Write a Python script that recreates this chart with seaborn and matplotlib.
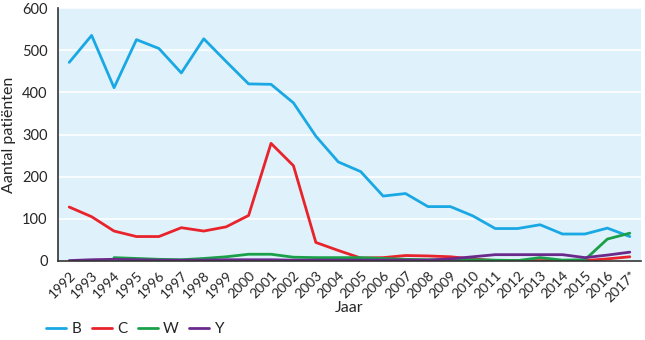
import numpy as np
import pandas as pd
import matplotlib
matplotlib.use("Agg")
import matplotlib.pyplot as plt
import seaborn as sns

years = ["1992","1993","1994","1995","1996","1997","1998","1999","2000","2001","2002","2003","2004",
         "2005","2006","2007","2008","2009","2010","2011","2012","2013","2014","2015","2016","2017*"]
B = [471,535,411,525,504,446,527,473,420,419,375,296,235,212,154,160,129,129,107,77,77,86,64,64,78,58]
C = [128,105,71,58,58,79,71,81,108,279,226,44,25,7,8,13,12,10,5,1,1,1,1,1,5,10]
W = [np.nan,np.nan,8,6,4,3,6,10,16,16,9,8,8,8,6,4,3,3,3,2,1,8,2,3,52,66]
Y = [1,3,4,3,2,2,2,3,3,3,2,2,2,2,2,2,2,5,10,15,15,15,15,8,14,21]

series = {"B": B, "C": C, "W": W, "Y": Y}
colors = {"B": "#1aa8e4", "C": "#e8232b", "W": "#1ba04a", "Y": "#6a2a8c"}

rows = []
for name, vals in series.items():
    for i, v in enumerate(vals):
        rows.append({"idx": i, "value": v, "serie": name})
df = pd.DataFrame(rows)

sns.set_style("white")
plt.rcParams["font.family"] = ["Lato", "DejaVu Sans"]

fig = plt.figure(figsize=(6.45, 3.4), dpi=100)
ax = fig.add_axes([58/645, 1-261/340, (641-58)/645, (261-8)/340])
ax.set_facecolor("#dff2fb")

sns.lineplot(data=df, x="idx", y="value", hue="serie", palette=colors, ax=ax,
             linewidth=2.0, legend=True)

ax.set_xlim(-0.5, len(years)-0.5)
ax.set_ylim(0, 600)
ax.set_yticks(range(0, 601, 100))
ax.yaxis.grid(True, color="white", linewidth=1.2)
ax.set_axisbelow(True)
ax.set_xticks(np.arange(-0.5, len(years)+0.5, 1))
ax.set_xticklabels([])
ax.set_xticks(np.arange(len(years)), minor=True)
ax.set_xticklabels(years, minor=True, rotation=45, ha="right", rotation_mode="anchor", fontsize=10)
ax.tick_params(axis="x", which="major", direction="out", length=4, color="#333333", width=1)
ax.tick_params(axis="x", which="minor", length=0, pad=6)
ax.tick_params(axis="y", direction="out", length=4, color="#333333", labelsize=10.5, width=1)
for s in ["top", "right"]:
    ax.spines[s].set_visible(False)
for s in ["left", "bottom"]:
    ax.spines[s].set_color("#333333")
    ax.spines[s].set_linewidth(1.2)
ax.set_xlabel("Jaar", fontsize=11.5, labelpad=-3)
ax.set_ylabel("Aantal patiënten", fontsize=11.5)

h, l = ax.get_legend_handles_labels()
ax.get_legend().remove()
fig.legend(h, l, loc="center left", bbox_to_anchor=(46/645, 1-329/340), ncol=4, frameon=False,
           fontsize=11, handlelength=1.3, columnspacing=0.7, handletextpad=0.35, borderaxespad=0,
           borderpad=0)
fig.savefig("out.png", dpi=100)
